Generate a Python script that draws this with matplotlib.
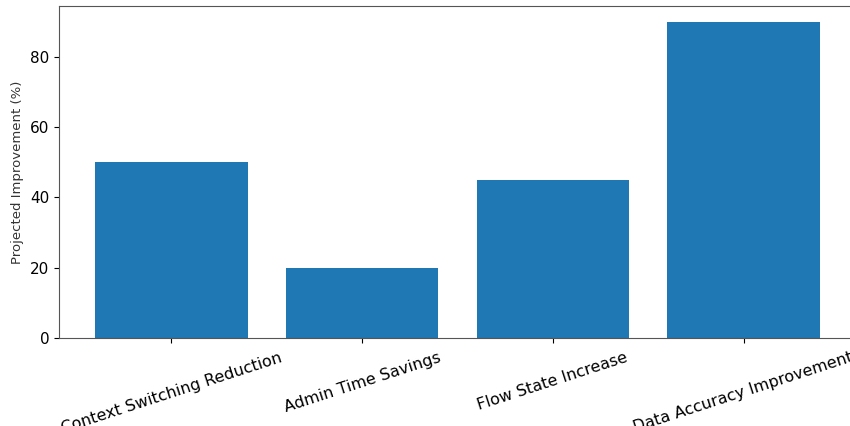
import matplotlib
matplotlib.use("Agg")
import matplotlib.pyplot as plt

categories = ["Context Switching Reduction", "Admin Time Savings",
              "Flow State Increase", "Data Accuracy Improvement"]
improvement = [50, 20, 45, 90]

fig = plt.figure(figsize=(8.5, 4.26), dpi=100)
# the reference is cropped a little on the right, so the axes run past the edge
ax = fig.add_axes([59 / 850, 88 / 426, 797 / 850, 332 / 426])

ax.bar(categories, improvement, color="#1f77b4", width=0.8)

ax.set_ylabel("Projected Improvement (%)", fontsize=9.5, color="#333333")
ax.set_yticks([0, 20, 40, 60, 80])
ax.tick_params(axis="y", labelsize=11)
ax.tick_params(axis="x", labelsize=11.5, pad=5)
plt.setp(ax.get_xticklabels(), rotation=18, ha="center")

for s in ax.spines.values():
    s.set_color("#555555")

fig.savefig("out.png", dpi=100)
